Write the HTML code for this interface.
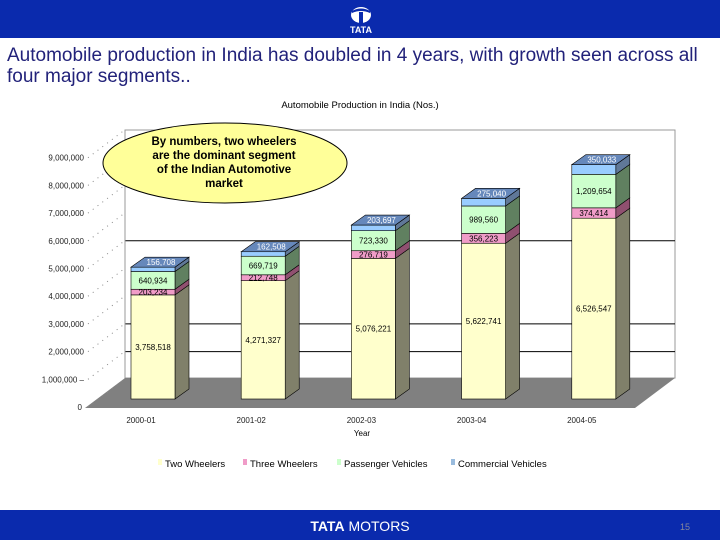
<!DOCTYPE html>
<html><head><meta charset="utf-8"><style>
body{margin:0;background:#fff;}
#wrap{position:relative;width:720px;height:540px;overflow:hidden;font-family:"Liberation Sans",sans-serif;}
text{font-family:"Liberation Sans",sans-serif;}
</style></head><body>
<div id="wrap">
<svg id="svg" width="720" height="540" xmlns="http://www.w3.org/2000/svg">
  <rect x="0" y="0" width="720" height="38" fill="#0a2aad"/>
  <g>
    <ellipse cx="361" cy="15" rx="10" ry="8" fill="#fff"/>
    <path d="M352 11 Q361 6 370 11 L370 13 Q361 9 352 13Z" fill="#0a2aad"/>
    <rect x="359" y="12" width="4" height="12" fill="#0a2aad"/>
    <text x="361" y="33" font-size="9" font-weight="bold" fill="#fff" text-anchor="middle">TATA</text>
  </g>
  <text x="7" y="61" font-size="19" fill="#22227a">Automobile production in India has doubled in 4 years, with growth seen across all</text>
  <text x="7" y="82" font-size="19" fill="#22227a">four major segments..</text>
  <text x="360" y="108" font-size="9.5" fill="#000" text-anchor="middle">Automobile Production in India (Nos.)</text>
  <g id="chart"></g>
  <g>
    <rect x="158" y="459" width="4" height="6" fill="#ffffcc"/><text x="165" y="467" font-size="9.5">Two Wheelers</text>
    <rect x="243" y="459" width="4" height="6" fill="#f09cc8"/><text x="250" y="467" font-size="9.5">Three Wheelers</text>
    <rect x="337" y="459" width="4" height="6" fill="#ccffcc"/><text x="344" y="467" font-size="9.5">Passenger Vehicles</text>
    <rect x="451" y="459" width="4" height="6" fill="#99bbdd"/><text x="458" y="467" font-size="9.5">Commercial Vehicles</text>
  </g>
  <rect x="0" y="510" width="720" height="30" fill="#0a2aad"/>
  <text x="360" y="531" font-size="14" fill="#fff" text-anchor="middle"><tspan font-weight="bold">TATA</tspan> MOTORS</text>
  <text x="685" y="530" font-size="9" fill="#889" text-anchor="middle">15</text>
</svg>
</div>
<script>
const categories=["2000-01","2001-02","2002-03","2003-04","2004-05"];
const twoWheelers=[3758518,4271327,5076221,5622741,6526547];
const threeWheelers=[203234,212748,276719,356223,374414];
const passengerVehicles=[640934,669719,723330,989560,1209654];
const commercialVehicles=[156708,162508,203697,275040,350033];
const yTicks=[0,1000000,2000000,3000000,4000000,5000000,6000000,7000000,8000000,9000000];
const gridValues=[6000000,3000000,2000000];
const NS="http://www.w3.org/2000/svg";
const g=document.getElementById('chart');
function el(t,a){const e=document.createElementNS(NS,t);for(const k in a)e.setAttribute(k,a[k]);return e;}
const base=399, pxPerM=27.7;
function y(v){return base-v/1e6*pxPerM;}
function yAxis(v){return 407-v/1e6*pxPerM;}
function xb(i){return 131+i*110.2;}
function fmt(v){return v.toLocaleString('en-US');}
let w=el('polygon',{points:"125,130 675,130 675,378 125,378",fill:"#fff",stroke:"#999","stroke-width":1});
g.appendChild(w);
gridValues.forEach(v=>{const yy=yAxis(v);
 const l=el('line',{x1:125,x2:675,y1:yy,y2:yy,stroke:"#000","stroke-width":1});
 g.appendChild(l);});
let fl=el('polygon',{points:"125,378 675,378 635,408 85,408",fill:"#808080"});
g.appendChild(fl);
let lw=el('line',{x1:125,y1:130,x2:125,y2:378,stroke:"#999"});g.appendChild(lw);
yTicks.forEach(v=>{const yy=yAxis(v);
 const t=el('text',{x:(v===0?82:84),y:yy+3,"font-size":8,"text-anchor":"end",fill:"#222"});t.textContent=v===0?"0":fmt(v)+(v===1000000?" –":"");
 g.appendChild(t);
 const d=el('line',{x1:88,y1:yy,x2:125,y2:yy-28,stroke:"#888","stroke-dasharray":"1,5"});g.appendChild(d);});
const series=[[twoWheelers,"#ffffcc","#80806a","#000","two-wheelers"],[threeWheelers,"#f09cc8","#905070","#000","three-wheelers"],[passengerVehicles,"#ccffcc","#608060","#000","passenger-vehicles"],[commercialVehicles,"#99ccff","#607898","#fff","commercial-vehicles"]];
const W=44,dx=14,dy=10;
categories.forEach((c,i)=>{
 let cum=0;const x0=xb(i);
 series.forEach((s,si)=>{
  const v=s[0][i];const yb=y(cum),yt=y(cum+v);cum+=v;
  const side=el('polygon',{points:`${x0+W},${yb} ${x0+W+dx},${yb-dy} ${x0+W+dx},${yt-dy} ${x0+W},${yt}`,fill:s[2],stroke:"#000","stroke-width":0.6});
  g.appendChild(side);
  const r=el('rect',{x:x0,y:yt,width:W,height:yb-yt,fill:s[1],stroke:"#000","stroke-width":0.6});
  g.appendChild(r);
  if(si===3){
   const top=el('polygon',{points:`${x0},${yt} ${x0+dx},${yt-dy} ${x0+W+dx},${yt-dy} ${x0+W},${yt}`,fill:"#6688bb",stroke:"#000","stroke-width":0.6});
   g.appendChild(top);
   const t=el('text',{x:x0+W/2+dx/2+1,y:yt-2,"font-size":8,"text-anchor":"middle",fill:"#fff"});t.textContent=fmt(v);
   g.appendChild(t);
  } else {
   const t=el('text',{x:x0+W/2,y:(yb+yt)/2+3,"font-size":8,"text-anchor":"middle",fill:"#000"});t.textContent=fmt(v);
   g.appendChild(t);
  }
 });
 const xl=el('text',{x:x0+10,y:423,"font-size":8,"text-anchor":"middle",fill:"#222"});xl.textContent=c;
 g.appendChild(xl);
});
const xt=el('text',{x:362,y:436,"font-size":8,"text-anchor":"middle",fill:"#000"});xt.textContent="Year";
g.appendChild(xt);
const cg=el('g',{});
cg.appendChild(el('ellipse',{cx:225,cy:163,rx:122,ry:40,fill:"#ffff99",stroke:"#000","stroke-width":1}));
["By numbers, two wheelers","are the dominant segment","of the Indian Automotive","market"].forEach((s,k)=>{const t=el('text',{x:224,y:145+k*14,"font-size":11.5,"font-weight":"bold","text-anchor":"middle"});t.textContent=s;cg.appendChild(t);});
g.appendChild(cg);
</script>
</body></html>
